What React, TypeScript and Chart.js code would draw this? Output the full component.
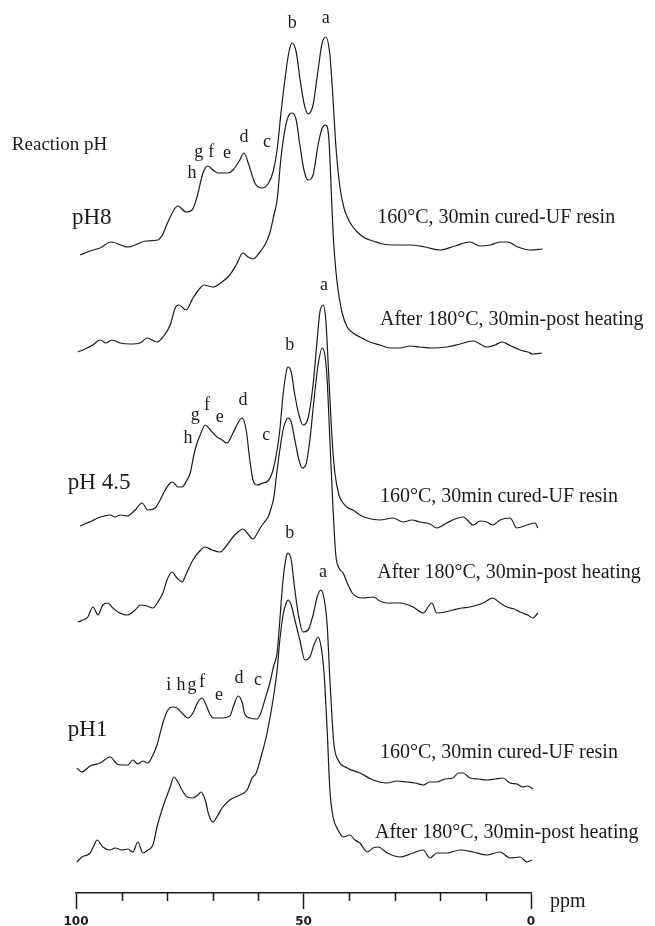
import React, { useEffect, useRef } from 'react';
import { Chart, registerables } from 'chart.js';

Chart.register(...registerables);

type Pt = [number, number];
type Label = [string, number, number];

// ppm, intensity above own baseline
const PH8_CURED: Pt[] = [
  [99.1, -5], [96.9, -1], [94.7, 2], [92.3, 8], [88.6, 3], [84.6, 9], [82.0, 10], [80.9, 16], [79.8, 28],
  [78.2, 42], [77.6, 44], [75.8, 38], [74.5, 40], [73.4, 53], [72.1, 77], [71.0, 84], [69.9, 80], [68.8, 77],
  [66.6, 77], [65.5, 80], [64.0, 90], [63.1, 97], [62.0, 85], [60.7, 67], [59.1, 62], [57.8, 66], [56.7, 78],
  [55.8, 100], [55.0, 135], [54.1, 170], [53.2, 198], [52.5, 207], [51.6, 198], [50.8, 172], [49.9, 147],
  [49.0, 136], [47.9, 145], [46.8, 180], [45.9, 207], [45.1, 213], [44.2, 195], [43.5, 150], [42.9, 105],
  [42.0, 63], [41.1, 42], [40.4, 33], [39.3, 24], [38.2, 18], [36.5, 12], [34.7, 9], [32.7, 6], [29.9, 5],
  [26.6, 5], [23.3, 3], [20.0, 0], [16.7, 4], [13.4, 8], [11.2, 4], [9.0, 5], [6.8, 8], [5.1, 8], [2.9, 3],
  [0.2, 0], [-2.6, 1],
];

const PH8_POST: Pt[] = [
  [99.6, -2], [98.0, 1], [96.3, 5], [94.7, 10], [93.4, 7], [92.1, 10], [90.3, 7], [88.1, 6], [85.9, 7],
  [84.4, 12], [82.2, 8], [80.7, 14], [79.3, 25], [78.2, 42], [77.4, 45], [75.8, 40], [74.3, 52], [72.7, 62],
  [71.9, 65], [69.9, 63], [67.9, 68], [66.2, 75], [64.8, 85], [63.3, 97], [62.2, 93], [61.1, 91], [59.6, 98],
  [58.5, 105], [57.4, 117], [56.5, 135], [55.8, 150], [55.0, 190], [54.1, 220], [53.2, 235], [52.5, 237],
  [51.6, 230], [50.8, 205], [49.9, 180], [49.0, 170], [47.9, 175], [46.8, 205], [45.9, 222], [45.1, 225],
  [44.4, 210], [44.0, 170], [43.5, 117], [42.9, 80], [42.4, 60], [41.5, 37], [40.4, 23], [39.1, 17],
  [37.6, 13], [35.4, 8], [33.2, 5], [31.0, 2], [28.8, 2], [26.6, 4], [24.4, 3], [21.8, 2], [18.5, 3],
  [15.6, 6], [12.7, 9], [9.7, 3], [7.9, 5], [6.4, 8], [4.4, 4], [2.4, 0], [0.7, -2], [-0.4, -4], [-2.4, -3],
];

const PH45_CURED: Pt[] = [
  [99.1, -4], [97.6, -1], [96.5, 1], [95.2, 4], [93.8, 6], [92.5, 7], [91.4, 5], [90.3, 7], [88.8, 6],
  [87.0, 12], [85.5, 19], [84.2, 12], [82.6, 14], [81.5, 22], [80.4, 32], [79.3, 39], [78.7, 40], [77.6, 35],
  [76.7, 35], [75.6, 42], [74.9, 49], [74.1, 67], [73.4, 79], [72.7, 87], [71.6, 97], [70.5, 92], [69.0, 85],
  [67.9, 82], [66.8, 79], [65.5, 89], [64.4, 99], [63.5, 104], [62.6, 92], [61.8, 62], [61.1, 42], [60.2, 37],
  [58.9, 39], [57.8, 41], [56.7, 52], [55.8, 72], [55.2, 92], [54.5, 127], [53.8, 150], [53.4, 155],
  [52.7, 150], [51.9, 127], [51.0, 107], [50.1, 97], [49.0, 104], [47.9, 137], [47.0, 182], [46.4, 210],
  [45.7, 217], [45.1, 202], [44.4, 142], [43.7, 82], [43.1, 49], [42.2, 27], [41.3, 19], [40.2, 14],
  [39.1, 12], [37.6, 7], [36.0, 4], [33.2, 2], [30.3, 4], [28.1, 0], [26.2, 2], [24.4, 0], [22.2, -2],
  [20.7, -6], [18.5, -1], [16.7, 3], [14.9, 5], [12.7, -3], [11.2, 1], [9.7, 0], [8.4, -3], [6.8, 2],
  [4.6, 4], [3.1, -6], [0.9, -3], [-0.9, -1], [-1.5, -6],
];

const PH45_POST: Pt[] = [
  [99.6, -12], [98.0, -9], [97.4, -7], [96.3, 3], [95.6, -2], [95.2, -5], [94.1, 5], [93.0, 7], [91.9, 2],
  [90.8, -2], [88.8, -5], [87.0, 0], [85.9, 5], [84.4, 4], [83.1, 2], [82.0, 8], [80.9, 17], [80.0, 30],
  [78.9, 38], [77.8, 32], [76.7, 28], [75.6, 38], [74.3, 50], [73.0, 58], [71.6, 63], [70.1, 60], [68.4, 58],
  [66.8, 65], [65.5, 73], [64.4, 78], [63.3, 81], [62.2, 76], [61.1, 71], [60.0, 78], [59.1, 85], [57.8, 93],
  [57.1, 102], [56.5, 113], [55.8, 140], [55.2, 160], [54.5, 180], [53.8, 190], [53.4, 192], [52.7, 188],
  [51.9, 170], [51.0, 150], [50.3, 142], [49.5, 145], [48.6, 170], [47.7, 210], [46.8, 245], [45.9, 262],
  [45.3, 255], [44.8, 230], [44.2, 170], [43.5, 100], [42.9, 55], [42.2, 42], [41.3, 37], [40.2, 25],
  [39.3, 17], [38.2, 13], [36.9, 12], [34.7, 13], [33.2, 9], [31.6, 7], [28.8, 7], [25.9, 3], [23.7, -3],
  [21.8, 7], [20.7, -3], [18.9, -2], [17.1, 0], [15.2, 2], [13.4, 3], [10.5, 7], [8.4, 12], [6.8, 7],
  [5.3, 3], [3.7, 1], [2.4, -2], [0.7, -5], [-0.4, -8], [-1.5, -3],
];

const PH1_CURED: Pt[] = [
  [99.8, 10], [98.7, 6], [96.9, 12], [94.7, 15], [92.5, 21], [91.0, 14], [89.9, 13], [88.6, 13], [87.5, 18],
  [86.4, 14], [85.3, 17], [84.2, 15], [83.1, 23], [82.2, 33], [81.5, 45], [80.7, 58], [79.8, 68], [78.9, 71],
  [77.8, 70], [76.7, 65], [75.4, 60], [74.3, 65], [73.2, 76], [72.3, 80], [71.4, 73], [70.5, 63], [69.7, 60],
  [67.9, 60], [66.2, 62], [65.3, 73], [64.4, 82], [63.5, 76], [62.9, 64], [61.8, 60], [60.2, 59], [59.3, 66],
  [58.5, 78], [57.4, 95], [56.5, 113], [55.8, 125], [55.2, 158], [54.5, 198], [53.8, 221], [53.4, 225],
  [52.7, 218], [51.9, 188], [51.0, 160], [50.1, 146], [49.0, 148], [47.9, 163], [47.0, 181], [46.2, 188],
  [45.5, 180], [44.8, 153], [44.2, 98], [43.7, 58], [43.3, 33], [42.4, 18], [40.4, 10], [37.6, 5],
  [34.7, -2], [31.6, -5], [29.5, -3], [27.3, -4], [25.5, -5], [23.7, -7], [22.2, -4], [20.7, -4], [18.9, -1],
  [17.1, 0], [16.0, 5], [14.9, 5], [13.4, 0], [11.6, -1], [9.7, -2], [7.9, -1], [6.2, 0], [4.6, -5],
  [3.1, -6], [1.8, -9], [0.7, -8], [-0.4, -11],
];

const PH1_POST: Pt[] = [
  [99.8, -10], [98.7, -5], [96.9, -1], [96.0, 7], [95.4, 12], [94.1, 5], [92.5, 2], [91.4, 4], [89.9, 2],
  [88.6, 3], [87.5, 0], [86.4, 10], [85.3, -1], [84.2, 2], [83.1, 7], [82.2, 25], [80.9, 45], [79.3, 65],
  [78.5, 75], [77.6, 70], [76.7, 62], [75.6, 55], [74.3, 54], [73.2, 57], [72.5, 60], [71.6, 52], [70.8, 37],
  [69.9, 30], [68.8, 37], [67.9, 44], [66.2, 52], [64.0, 57], [62.4, 62], [61.3, 74], [60.4, 79], [59.1, 99],
  [58.0, 119], [56.7, 152], [55.8, 182], [55.2, 212], [54.5, 237], [53.8, 249], [53.4, 252], [52.7, 247],
  [51.9, 232], [50.8, 212], [49.7, 192], [48.6, 195], [47.7, 207], [46.8, 215], [46.2, 207], [45.5, 180],
  [44.8, 122], [44.2, 62], [43.5, 35], [42.4, 22], [41.3, 15], [39.8, 17], [38.7, 12], [37.6, 9], [36.0, 0],
  [34.7, 4], [33.6, 5], [31.6, -1], [28.8, -5], [25.9, -1], [23.7, 2], [22.2, -6], [20.7, -1], [18.5, -1],
  [15.6, 2], [12.7, 0], [9.7, -3], [6.8, 0], [4.6, -6], [2.4, -5], [0.9, -10], [-0.2, -8],
];

const SPECTRA: Pt[][] = [PH8_CURED, PH8_POST, PH45_CURED, PH45_POST, PH1_CURED, PH1_POST];
const SPECTRUM_NAMES = ['pH8 cured', 'pH8 post', 'pH4.5 cured', 'pH4.5 post', 'pH1 cured', 'pH1 post'];
const BASELINES = [643, 543, 371, 283, 115, 41];

const X_TICKS = [100, 90, 80, 70, 60, 50, 40, 30, 20, 10, 0];
const X_LABELS = ['100', '50', '0'];

// peak letters: [letter, ppm, height above baseline of the spectrum]
const PEAKS_PH8: Label[] = [
  ['b', 52.5, 227], ['a', 45.1, 232], ['d', 63.1, 113], ['c', 58.0, 108],
  ['g', 73.0, 98], ['f', 70.3, 98], ['e', 66.8, 97], ['h', 74.5, 77],
];
const PEAKS_PH45: Label[] = [
  ['a', 45.5, 237], ['b', 53.0, 177], ['d', 63.3, 122], ['g', 73.8, 107],
  ['f', 71.2, 117], ['e', 68.4, 105], ['h', 75.4, 84], ['c', 58.2, 87],
];
const PEAKS_PH1: Label[] = [
  ['b', 53.0, 245], ['a', 45.7, 206], ['i', 79.6, 93], ['h', 76.9, 93], ['g', 74.5, 93],
  ['f', 72.3, 96], ['e', 68.6, 83], ['d', 64.2, 100], ['c', 60.0, 98],
];
const PEAK_GROUPS: [Label[], number][] = [[PEAKS_PH8, 0], [PEAKS_PH45, 2], [PEAKS_PH1, 4]];

// text labels: [text, ppm (left edge), height above baseline, spectrum index, kind]
const TEXTS: [string, number, number, number, string][] = [
  ['Reaction pH', 114.1, 105, 0, 'title'],
  ['pH8', 100.9, 32, 0, 'ph'],
  ['160°C, 30min cured-UF resin', 33.8, 32, 0, 'cond'],
  ['After 180°C, 30min-post heating', 33.2, 30, 1, 'cond'],
  ['pH 4.5', 101.8, 39, 2, 'ph'],
  ['160°C, 30min cured-UF resin', 33.2, 25, 2, 'cond'],
  ['After 180°C, 30min-post heating', 33.8, 37, 3, 'cond'],
  ['pH1', 101.8, 48, 4, 'ph'],
  ['160°C, 30min cured-UF resin', 33.2, 25, 4, 'cond'],
  ['After 180°C, 30min-post heating', 34.3, 19, 5, 'cond'],
];

const FONTS: Record<string, string> = {
  title: '19px "Liberation Serif", serif',
  ph: '23px "Liberation Serif", serif',
  cond: '20px "Liberation Serif", serif',
  peak: '18px "Liberation Serif", serif',
  unit: '20px "Liberation Serif", serif',
};

const INK = '#1a1a1a';

const annotations = {
  id: 'annotations',
  beforeDraw(chart: any) {
    const ctx = chart.ctx;
    ctx.save();
    ctx.fillStyle = '#ffffff';
    ctx.fillRect(0, 0, chart.width, chart.height);
    ctx.restore();
  },
  afterDraw(chart: any) {
    const ctx = chart.ctx;
    const xs = chart.scales.x;
    const ys = chart.scales.y;
    ctx.save();
    ctx.fillStyle = INK;
    // minor ticks
    ctx.strokeStyle = INK;
    ctx.lineWidth = 1.5;
    const axisY = xs.top;
    X_TICKS.forEach((v) => {
      if (v % 50 === 0) return;
      const px = Math.round(xs.getPixelForValue(v)) + 0.5;
      ctx.beginPath();
      ctx.moveTo(px, axisY);
      ctx.lineTo(px, axisY + 8);
      ctx.stroke();
    });
    // unit
    ctx.font = FONTS.unit;
    ctx.textAlign = 'left';
    ctx.textBaseline = 'middle';
    ctx.fillText('ppm', xs.getPixelForValue(-4.2), axisY + 9);
    // texts
    TEXTS.forEach(([t, ppm, h, si, kind]) => {
      ctx.font = FONTS[kind];
      ctx.textAlign = 'left';
      ctx.textBaseline = 'middle';
      ctx.fillText(t, xs.getPixelForValue(ppm), ys.getPixelForValue(BASELINES[si] + h));
    });
    // peak letters
    ctx.font = FONTS.peak;
    ctx.textAlign = 'center';
    ctx.textBaseline = 'middle';
    PEAK_GROUPS.forEach(([labels, si]) => {
      labels.forEach(([t, ppm, h]) => {
        ctx.fillText(t, xs.getPixelForValue(ppm), ys.getPixelForValue(BASELINES[si] + h));
      });
    });
    ctx.restore();
  },
};

export default function App() {
  const ref = useRef<HTMLCanvasElement | null>(null);
  useEffect(() => {
    if (!ref.current) return;
    const chart = new Chart(ref.current, {
      type: 'line',
      data: {
        datasets: SPECTRA.map((s, i) => ({
          label: SPECTRUM_NAMES[i],
          data: s.map(([p, v]) => ({ x: p, y: BASELINES[i] + v })),
          borderColor: INK,
          borderWidth: 1.2,
          pointRadius: 0,
          fill: false,
          cubicInterpolationMode: 'monotone' as const,
          clip: false as any,
        })),
      },
      options: {
        animation: false,
        responsive: true,
        maintainAspectRatio: false,
        layout: { padding: { left: 76, right: 124, top: 0, bottom: 0 } },
        plugins: { legend: { display: false }, tooltip: { enabled: false } },
        events: [],
        scales: {
          x: {
            type: 'linear',
            reverse: true,
            min: 0,
            max: 100,
            afterFit: (scale: any) => {
              scale.height = 33;
            },
            afterBuildTicks: (scale: any) => {
              scale.ticks = X_TICKS.map((v) => ({ value: v }));
            },
            border: { display: true, color: INK, width: 1.5 },
            grid: {
              display: true,
              drawOnChartArea: false,
              drawTicks: true,
              tickLength: 16,
              tickWidth: 1.5,
              tickColor: (c: any) => (c.tick && c.tick.value % 50 === 0 ? INK : 'rgba(0,0,0,0)'),
            },
            ticks: {
              autoSkip: false,
              maxRotation: 0,
              padding: 6,
              color: INK,
              font: { family: '"DejaVu Sans", sans-serif', size: 12, weight: 'bold' },
              callback: (v: any) => (X_LABELS.includes(String(v)) ? String(v) : ''),
            },
          },
          y: { type: 'linear', display: false, min: 0, max: 893 },
        },
      },
      plugins: [annotations],
    });
    return () => chart.destroy();
  }, []);
  return (
    <div style={{ position: 'fixed', left: 0, top: 0, width: 655, height: 926, background: '#fff' }}>
      <canvas ref={ref} />
    </div>
  );
}
